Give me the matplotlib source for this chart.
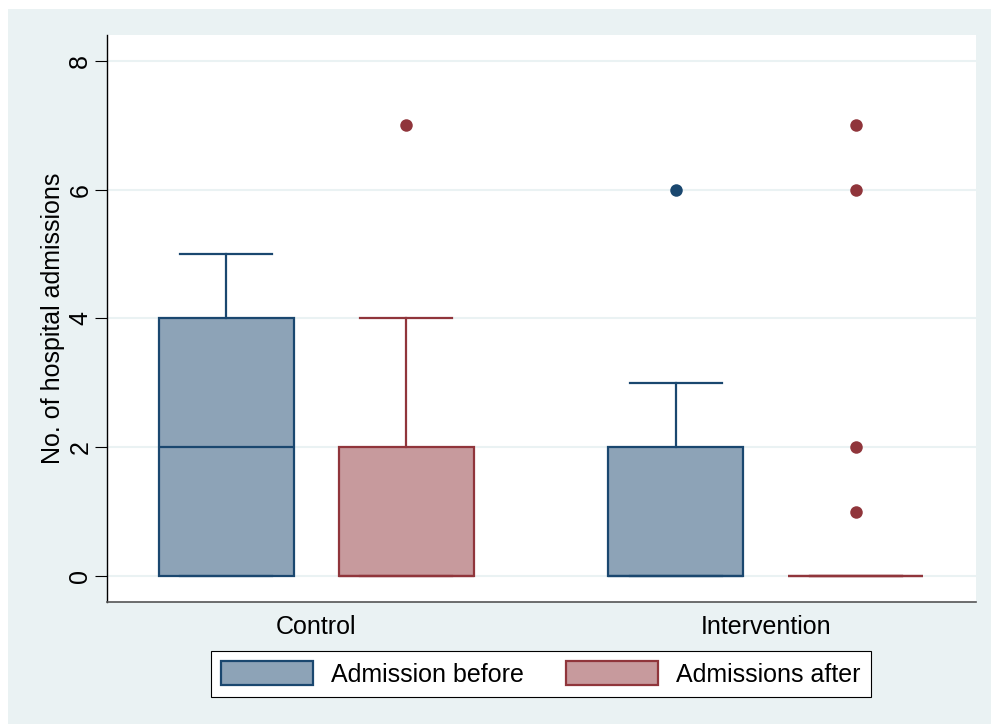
import matplotlib
matplotlib.use("Agg")
import matplotlib.pyplot as plt
from matplotlib.patches import Patch, Rectangle

plt.rcParams['font.family'] = ['Liberation Sans', 'DejaVu Sans']

# Data
groups = ["Control", "Intervention"]
series_names = ["Admission before", "Admissions after"]

before_whislo = [0, 0]
before_q1 = [0, 0]
before_med = [2, 0]
before_q3 = [4, 2]
before_whishi = [5, 3]
before_fliers = [[], [6]]

after_whislo = [0, 0]
after_q1 = [0, 0]
after_med = [0, 0]
after_q3 = [2, 0]
after_whishi = [4, 0]
after_fliers = [[7], [1, 2, 6, 7]]

yticks = [0, 2, 4, 6, 8]

# Styles
navy = "#1A476F"
navy_fill = "#8DA3B7"
maroon = "#90353B"
maroon_fill = "#C79A9D"
bg = "#EAF2F3"

fig = plt.figure(figsize=(9.91, 7.26), dpi=100, facecolor="white")
fig.patches.append(Rectangle((8 / 991, 2 / 726), 983 / 991, 715 / 726,
                             transform=fig.transFigure, facecolor=bg,
                             edgecolor="none", zorder=-10))

ax = fig.add_axes([107 / 991, 1 - 602 / 726, 869 / 991, 567 / 726])
ax.set_facecolor("white")


def make_stats(whislo, q1, med, q3, whishi, fliers):
    return [dict(whislo=whislo[i], q1=q1[i], med=med[i], q3=q3[i],
                 whishi=whishi[i], fliers=fliers[i]) for i in range(len(groups))]


centers = [1, 2]
offset = 0.2
width = 0.3
capw = 0.205
lw = 1.6

for stats, shift, edge, fill in [
    (make_stats(before_whislo, before_q1, before_med, before_q3, before_whishi, before_fliers), -offset, navy, navy_fill),
    (make_stats(after_whislo, after_q1, after_med, after_q3, after_whishi, after_fliers), offset, maroon, maroon_fill),
]:
    ax.bxp(stats, positions=[c + shift for c in centers], widths=width,
           capwidths=capw, patch_artist=True, showfliers=True,
           boxprops=dict(facecolor=fill, edgecolor=edge, linewidth=lw),
           medianprops=dict(color=edge, linewidth=lw),
           whiskerprops=dict(color=edge, linewidth=lw),
           capprops=dict(color=edge, linewidth=lw),
           flierprops=dict(marker="o", markerfacecolor=edge, markeredgecolor=edge,
                           markersize=9, markeredgewidth=0),
           manage_ticks=False, zorder=3)

ax.set_xlim(0.5345, 2.4678)
ax.set_ylim(-0.404, 8.40)

ax.set_yticks(yticks)
ax.set_yticklabels([str(t) for t in yticks], rotation=90, va="center")
ax.set_xticks(centers)
ax.set_xticklabels(groups)

ax.yaxis.grid(True, color=bg, linewidth=1.5, zorder=0)
ax.set_axisbelow(True)

ax.tick_params(axis="y", length=8.6, width=0.8, color="black", pad=2, labelsize=18)
ax.tick_params(axis="x", length=0, pad=9, labelsize=18)

for s in ["top", "right"]:
    ax.spines[s].set_visible(False)
ax.spines["left"].set_color("black")
ax.spines["left"].set_linewidth(1.0)
ax.spines["bottom"].set_color("#555555")
ax.spines["bottom"].set_linewidth(1.2)

ax.set_ylabel("No. of hospital admissions", fontsize=18, va="center")
ax.yaxis.set_label_coords((53 - 107) / 869, 0.5)

handles = [Patch(facecolor=navy_fill, edgecolor=navy, linewidth=lw),
           Patch(facecolor=maroon_fill, edgecolor=maroon, linewidth=lw)]
leg = fig.legend(handles, series_names, loc="center",
                 bbox_to_anchor=(541 / 991, 1 - 674 / 726), ncol=2,
                 fontsize=18, handlelength=3.68, handleheight=1.04,
                 handletextpad=0.72, columnspacing=1.68, borderpad=0.42,
                 fancybox=False, framealpha=1, edgecolor="black")
leg.get_frame().set_linewidth(0.8)

fig.savefig("out.png", dpi=100, facecolor=fig.get_facecolor())
